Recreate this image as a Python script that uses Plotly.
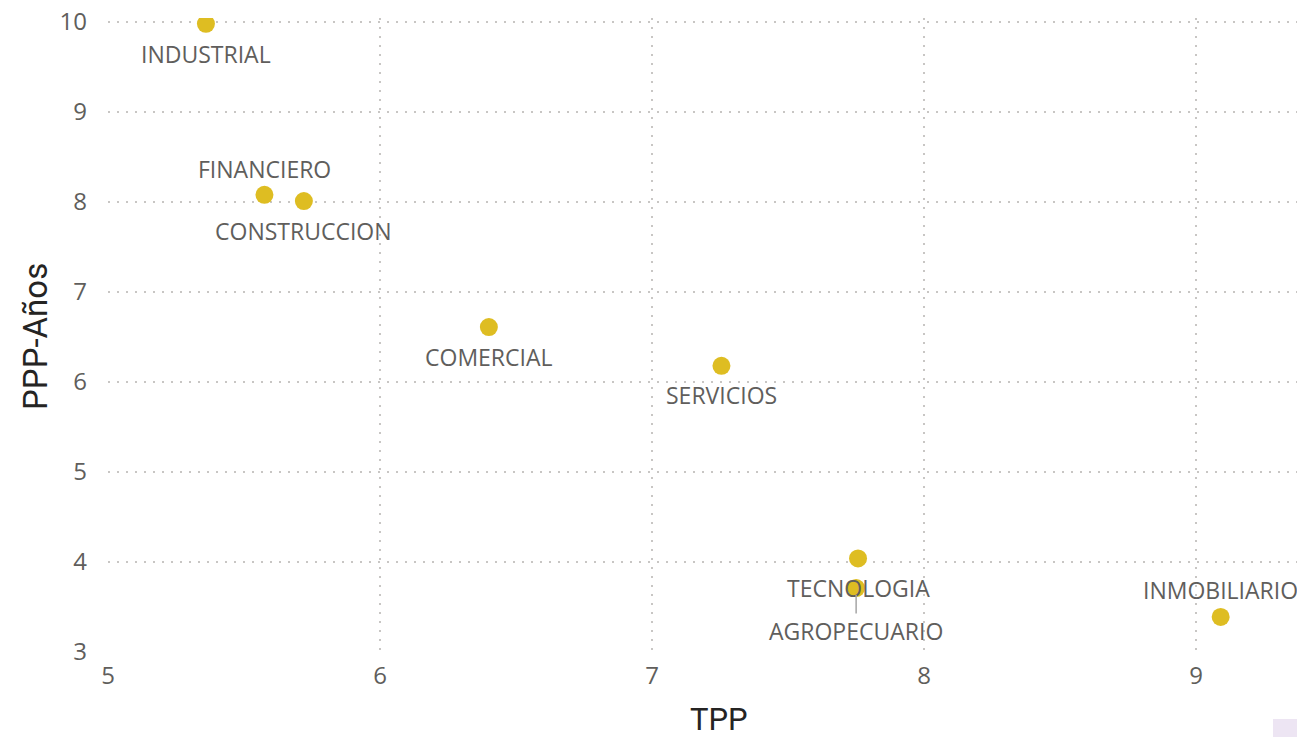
import plotly.graph_objects as go

# ---- data ----
sectors = ["INDUSTRIAL", "FINANCIERO", "CONSTRUCCION", "COMERCIAL", "SERVICIOS",
           "TECNOLOGIA", "AGROPECUARIO", "INMOBILIARIO"]
tpp = [5.36, 5.575, 5.72, 6.40, 7.255, 7.757, 7.75, 9.09]
ppp_anios = [9.98, 8.08, 8.01, 6.61, 6.18, 4.04, 3.71, 3.39]
x_ticks = [5, 6, 7, 8, 9]
y_ticks = [3, 4, 5, 6, 7, 8, 9, 10]

# label placement (pixel offsets, styling only)
label_dy = {"INDUSTRIAL": 30, "FINANCIERO": -26, "CONSTRUCCION": 30, "COMERCIAL": 30,
            "SERVICIOS": 29, "TECNOLOGIA": 30, "AGROPECUARIO": 43, "INMOBILIARIO": -27}

MARKER = "#DEBD22"
LABEL_C = "#605E5C"
TITLE_C = "#252423"
FONT = "Open Sans"

# page has an 8px body margin
OFF = 8
W, H = 1305 - OFF, 737 - OFF
L, R, T, B = 108 - OFF, 0, 18 - OFF, 85
pw, ph = W - L - R, H - T - B


def px_to_paper(px, py):
    return (px - OFF - L) / pw, (H - B - (py - OFF)) / ph


fig = go.Figure()
fig.add_trace(go.Scatter(
    x=tpp, y=ppp_anios, mode="markers",
    marker=dict(size=18, color=MARKER, line=dict(width=0)),
    hovertext=sectors, hoverinfo="text+x+y", showlegend=False, cliponaxis=True,
))

annotations = []
for name, xv, yv in zip(sectors, tpp, ppp_anios):
    dy = label_dy[name]
    if name == "AGROPECUARIO":
        annotations.append(dict(
            x=xv, y=yv, xref="x", yref="y", text=name, showarrow=True,
            ax=0, ay=dy, arrowhead=0, arrowwidth=1.5, arrowcolor="#A6A6A6",
            standoff=7, font=dict(family=FONT, size=23, color=LABEL_C),
        ))
    else:
        annotations.append(dict(
            x=xv, y=yv, xref="x", yref="y", text=name, showarrow=False,
            yshift=-dy, xanchor="center", yanchor="middle",
            font=dict(family=FONT, size=23, color=LABEL_C),
        ))

# axis titles
tx, ty = px_to_paper(719, 719)
annotations.append(dict(
    x=tx, y=ty, xref="paper", yref="paper", text="TPP", showarrow=False,
    xanchor="center", yanchor="middle", borderpad=0,
    font=dict(family="Roboto", size=31, color=TITLE_C),
))
tx, ty = px_to_paper(35, 337)
annotations.append(dict(
    x=tx, y=ty, xref="paper", yref="paper", text="PPP-Años", showarrow=False,
    xanchor="center", yanchor="middle",
    textangle=-90, font=dict(family="Roboto", size=33, color=TITLE_C),
))

sx0, sy0 = px_to_paper(1273, 737)
sx1, sy1 = px_to_paper(1305, 719)

fig.update_layout(
    width=W, height=H,
    margin=dict(l=L, r=R, t=T, b=B, pad=0, autoexpand=False),
    paper_bgcolor="white", plot_bgcolor="white",
    annotations=annotations,
    shapes=[dict(type="rect", xref="paper", yref="paper",
                 x0=sx0, x1=sx1, y0=sy0, y1=sy1,
                 fillcolor="#EDE5F3", line=dict(width=0), layer="above")],
    xaxis=dict(
        range=[5, 9.4], tickvals=x_ticks, ticktext=[str(v) for v in x_ticks],
        showgrid=True, gridcolor="#C8C6C4", griddash="2px,7px", gridwidth=2,
        zeroline=False, showline=False, ticks="", ticklabeloverflow="allow",
        automargin=False,
        tickfont=dict(family=FONT, size=24, color=LABEL_C), ticklabelstandoff=7,
    ),
    yaxis=dict(
        range=[3, 3 + ph / 90], tickvals=y_ticks, ticktext=[str(v) for v in y_ticks],
        showgrid=True, gridcolor="#C8C6C4", griddash="2px,7px", gridwidth=2,
        zeroline=False, showline=False, ticks="", ticklabeloverflow="allow",
        automargin=False,
        tickfont=dict(family=FONT, size=24, color=LABEL_C), ticklabelstandoff=20,
    ),
    font=dict(family=FONT),
)

fig.write_html("out.html")
